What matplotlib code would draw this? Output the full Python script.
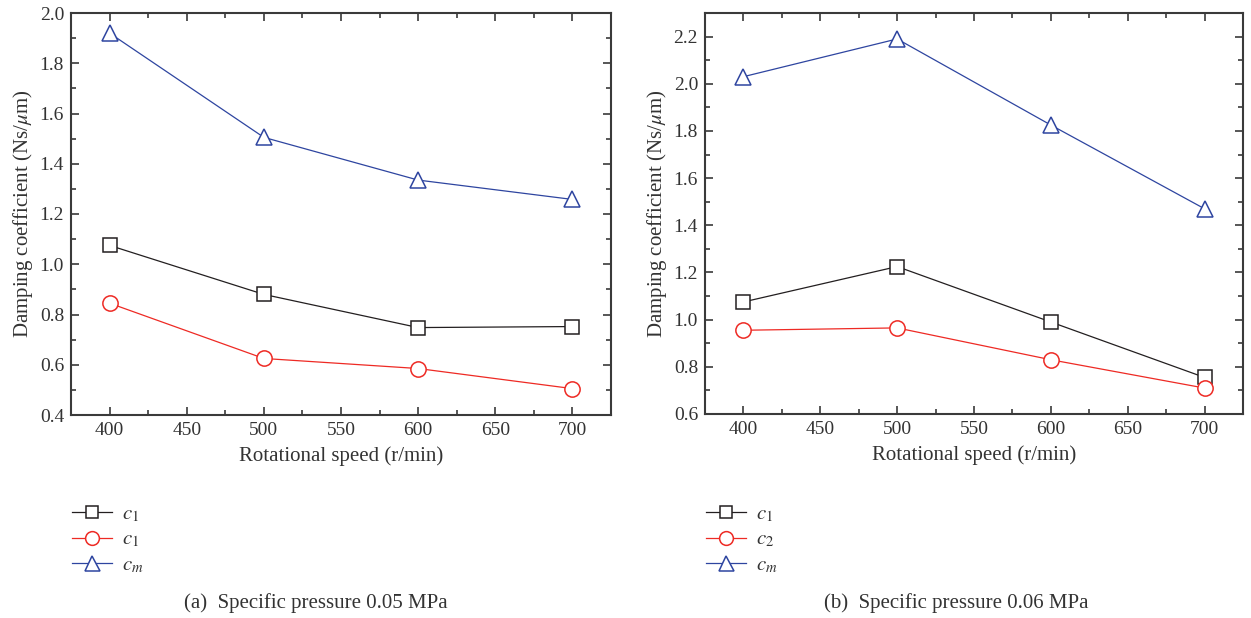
import matplotlib
matplotlib.use('Agg')
import matplotlib.pyplot as plt
from matplotlib.ticker import MultipleLocator, FormatStrFormatter

plt.rcParams['font.family'] = ['Liberation Serif', 'DejaVu Serif']
plt.rcParams['mathtext.fontset'] = 'stix'

speed = [400, 500, 600, 700]
# (a) 0.05 MPa
a_c1 = [1.075, 0.880, 0.748, 0.752]
a_c2 = [0.845, 0.625, 0.585, 0.505]
a_cm = [1.920, 1.505, 1.335, 1.258]
# (b) 0.06 MPa
b_c1 = [1.075, 1.225, 0.990, 0.755]
b_c2 = [0.955, 0.965, 0.830, 0.710]
b_cm = [2.030, 2.190, 1.825, 1.470]

labels_a = ['$c_1$', '$c_1$', '$c_m$']
labels_b = ['$c_1$', '$c_2$', '$c_m$']
captions = ['(a)  Specific pressure 0.05 MPa', '(b)  Specific pressure 0.06 MPa']

black = '#231f20'
red = '#ee2a24'
blue = '#2e45a0'
axcol = '#3a3a3a'
txt = '#333333'
styles = [(black, 's', 10), (red, 'o', 11), (blue, '^', 12)]

fig = plt.figure(figsize=(12.51, 6.18), dpi=100)
ax1 = fig.add_axes([71/1251, 1-415/618, 540/1251, 402/618])
ax2 = fig.add_axes([705/1251, 1-414/618, 538/1251, 401/618])

def draw(ax, series, labels, ylim):
    handles = []
    for vals, (c, m, ms), lab in zip(series, styles, labels):
        h, = ax.plot(speed, vals, color=c, lw=0.9, marker=m, ms=ms,
                     mfc='white', mec=c, mew=1.1, label=lab)
        handles.append(h)
    ax.set_xlim(375, 725)
    ax.set_ylim(*ylim)
    ax.xaxis.set_major_locator(MultipleLocator(50))
    ax.xaxis.set_minor_locator(MultipleLocator(25))
    ax.yaxis.set_major_locator(MultipleLocator(0.2))
    ax.yaxis.set_minor_locator(MultipleLocator(0.1))
    ax.yaxis.set_major_formatter(FormatStrFormatter('%.1f'))
    ax.tick_params(which='both', direction='in', top=True, right=True,
                   color=axcol, labelcolor=txt, labelsize=14, width=1.2)
    ax.tick_params(which='major', length=6, pad=5)
    ax.tick_params(which='minor', length=3.5)
    for s in ax.spines.values():
        s.set_color(axcol)
        s.set_linewidth(1.5)
    ax.set_xlabel('Rotational speed (r/min)', fontsize=15, color=txt, labelpad=5)
    ax.set_ylabel(r'Damping coefficient (Ns/$\mu$m)', fontsize=15, color=txt, labelpad=3)
    return handles

h1 = draw(ax1, [a_c1, a_c2, a_cm], labels_a, (0.4, 2.0))
h2 = draw(ax2, [b_c1, b_c2, b_cm], labels_b, (0.6, 2.3))

for hs, labs, x0 in [(h1, labels_a, 72), (h2, labels_b, 706)]:
    fig.legend(handles=hs, labels=labs, loc='upper left',
               bbox_to_anchor=(x0/1251, 1-505/618),
               frameon=False, fontsize=15, handlelength=1.9, labelspacing=0.27,
               borderpad=0, borderaxespad=0, handletextpad=0.5,
               markerscale=0.9, labelcolor=txt)

fig.text(316/1251, 1-603/618, captions[0], ha='center', va='center', fontsize=15, color=txt)
fig.text(956/1251, 1-603/618, captions[1], ha='center', va='center', fontsize=15, color=txt)

fig.savefig('out.png', dpi=100)
